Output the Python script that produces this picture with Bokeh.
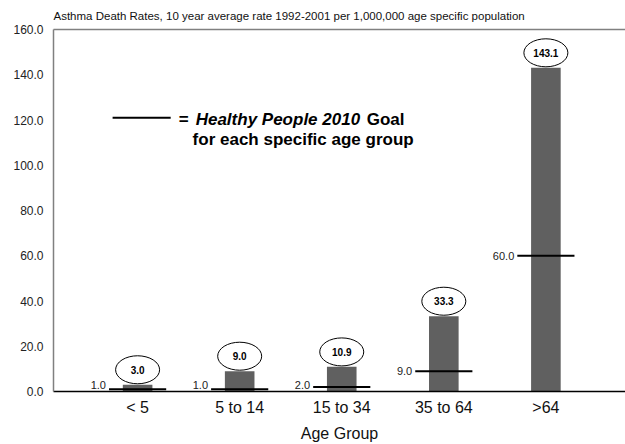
from bokeh.plotting import figure
from bokeh.models import (Range1d, FixedTicker, LinearAxis, PrintfTickFormatter,
                          ColumnDataSource, Label)
from bokeh.core.properties import value
from bokeh.embed import file_html
from bokeh.resources import INLINE

# Asthma death rates per 1,000,000, 10-year average 1992-2001
age_groups = ["< 5", "5 to 14", "15 to 34", "35 to 64", ">64"]
death_rates = [3.0, 9.0, 10.9, 33.3, 143.1]
hp2010_goals = [1.0, 1.0, 2.0, 9.0, 60.0]
y_ticks = [0, 20, 40, 60, 80, 100, 120, 140, 160]

FONT = "Liberation Sans"
xpos = list(range(len(age_groups)))

p = figure(width=625, height=444, output_backend="svg", toolbar_location=None,
           x_range=Range1d(-0.824, 4.78), y_range=Range1d(0, 160),
           min_border_left=53, min_border_right=0, min_border_top=0,
           min_border_bottom=53, background_fill_color="white",
           border_fill_color="white")
p.outline_line_color = None
p.grid.visible = False

p.title.text = ("Asthma Death Rates, 10 year average rate 1992-2001 "
                "per 1,000,000 age specific population")
p.title.text_font = FONT
p.title.text_font_size = "11.5px"
p.title.text_font_style = "normal"
p.title.text_color = "#111111"
p.title.align = "left"
p.title.standoff = 15

# y axis
ya = p.yaxis[0]
ya.ticker = FixedTicker(ticks=y_ticks)
ya.formatter = PrintfTickFormatter(format="%.1f")
ya.major_label_text_font = FONT
ya.major_label_text_font_size = "12px"
ya.major_label_text_color = "#222222"
ya.major_tick_line_color = None
ya.minor_tick_line_color = None
ya.major_tick_out = 0
ya.major_label_standoff = 10
ya.axis_line_color = "#808080"
ya.axis_line_width = 1.5

# x axis
xa = p.xaxis[0]
xa.ticker = FixedTicker(ticks=xpos)
xa.major_label_overrides = {i: g for i, g in enumerate(age_groups)}
xa.major_label_text_font = FONT
xa.major_label_text_font_size = "16px"
xa.major_label_text_color = "#111111"
xa.major_tick_line_color = None
xa.minor_tick_line_color = None
xa.major_tick_out = 0
xa.major_label_standoff = 7
xa.axis_line_color = "black"
xa.axis_line_width = 1.5
xa.axis_label = "Age Group"
xa.axis_label_text_font = FONT
xa.axis_label_text_font_size = "16px"
xa.axis_label_text_font_style = "normal"
xa.axis_label_text_color = "#111111"
xa.axis_label_standoff = 6

# top frame line
top = LinearAxis(ticker=FixedTicker(ticks=[]), axis_line_color="#808080",
                 axis_line_width=1.5, major_tick_line_color=None,
                 minor_tick_line_color=None, major_label_text_font_size="0px")
p.add_layout(top, "above")

src = ColumnDataSource(dict(
    x=xpos,
    rate=death_rates,
    goal=hp2010_goals,
    x0=[x - 0.28 for x in xpos],
    x1=[x + 0.28 for x in xpos],
    xl=[x - 0.31 for x in xpos],
    # goal labels stay clear of the baseline
    goal_label_y=[max(g, 3.0) for g in hp2010_goals],
    bubble_y=[r + 6.6 for r in death_rates],
    rate_txt=["%.1f" % r for r in death_rates],
    goal_txt=["%.1f" % g for g in hp2010_goals],
))

p.vbar(x="x", top="rate", width=0.29, bottom=0, source=src,
       fill_color="#606060", line_color=None)

# goal markers
p.segment(x0="x0", y0="goal", x1="x1", y1="goal", source=src,
          line_color="black", line_width=2)
p.text(x="xl", y="goal_label_y", text="goal_txt", source=src,
       text_font=value(FONT), text_font_size="11px", text_color="#222222",
       text_align="right", text_baseline="middle")

# value bubbles
p.ellipse(x="x", y="bubble_y", width=44, height=28, width_units="screen",
          height_units="screen", source=src, fill_color="white",
          line_color="black", line_width=1)
p.text(x="x", y="bubble_y", text="rate_txt", source=src,
       text_font=value(FONT), text_font_size="10px", text_font_style="bold",
       text_color="black", text_align="center", text_baseline="middle")

# key for the goal line
p.line(x=[-0.245, 0.324], y=[121, 121], line_color="black", line_width=2)
key_parts = [
    (0.402, "=", "bold"),
    (0.569, "Healthy People 2010", "bold italic"),
    (2.245, "Goal", "bold"),
]
for kx, txt, style in key_parts:
    p.add_layout(Label(x=kx, y=120.3, text=txt, text_font=FONT,
                       text_font_size="17px", text_font_style=style,
                       text_color="black", text_baseline="middle"))
p.add_layout(Label(x=0.539, y=111.5, text="for each specific age group",
                   text_font=FONT, text_font_size="17px",
                   text_font_style="bold", text_color="black",
                   text_baseline="middle"))

open("out.html", "w").write(file_html(p, INLINE))
